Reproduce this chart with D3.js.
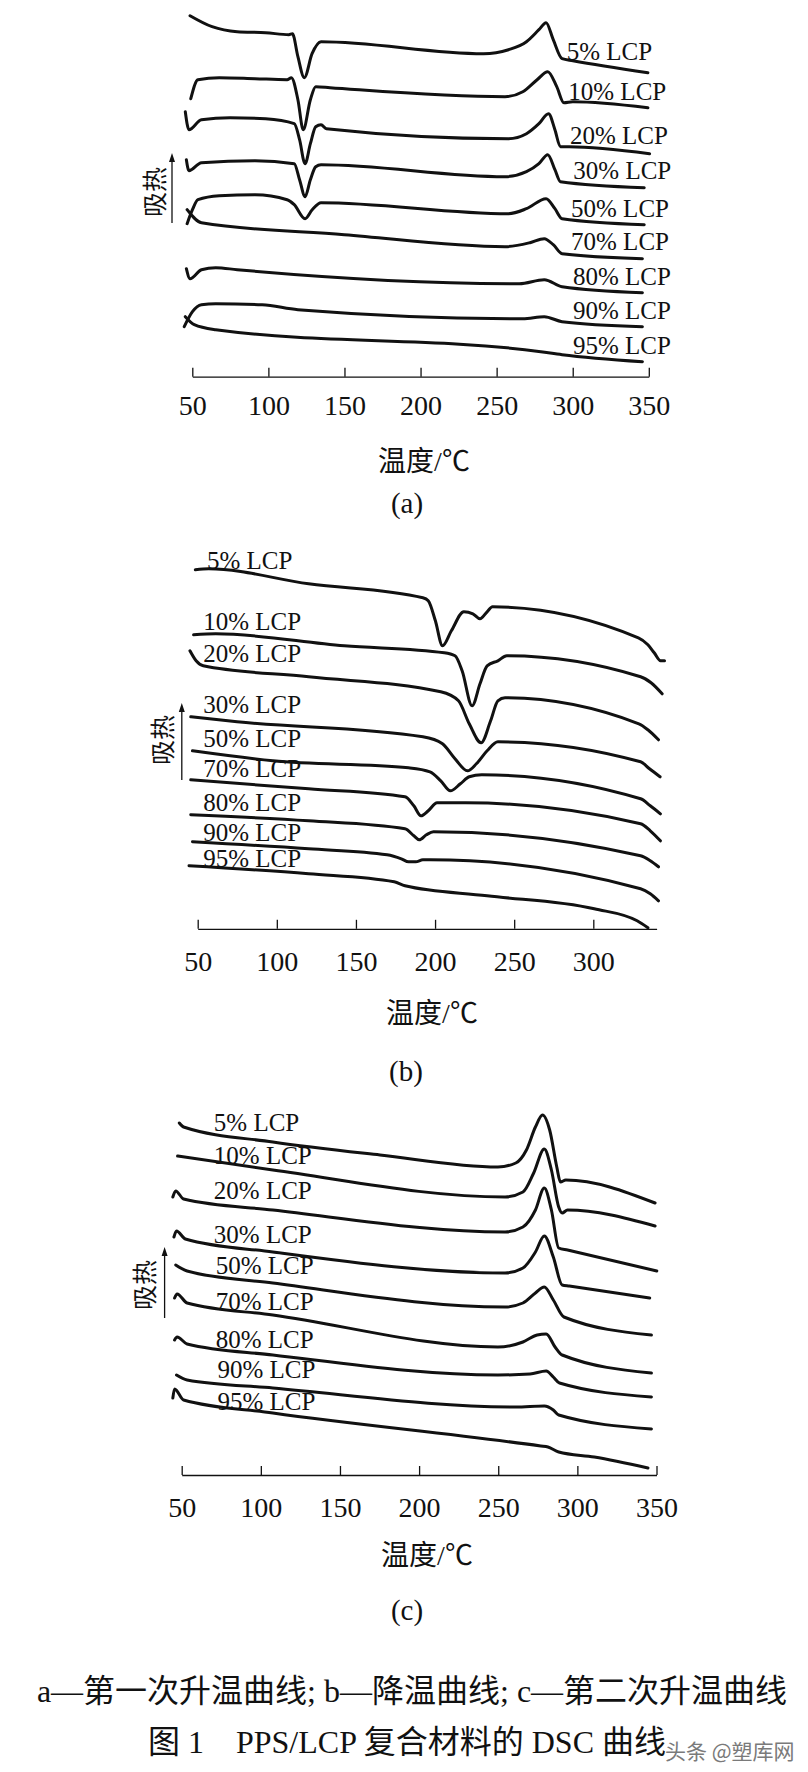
<!DOCTYPE html>
<html>
<head>
<meta charset="utf-8">
<script src="https://cdn.jsdelivr.net/npm/d3@7"></script>
<style>
  body { margin: 0; background: #fff; }
  svg { display: block; background: #fff; }
  .axis path, .axis line { stroke: #111; stroke-width: 1.3px; }
  .curve { fill: none; stroke: #111; stroke-width: 3px; stroke-linejoin: round; stroke-linecap: round; }
  .lab { font-family: "Liberation Serif", "Times New Roman", serif; font-size: 25px; fill: #111; }
  .cjk { font-family: "Liberation Serif", "Noto Sans CJK SC", serif; fill: #111; }
</style>
</head>
<body>
<svg id="chart" width="808" height="1772"></svg>
<script>
// ---------------------------------------------------------------------------
// Data (temperature in °C, heat flow in arbitrary units, endotherm up)

const series = ['5% LCP', '10% LCP', '20% LCP', '30% LCP', '50% LCP',
  '70% LCP', '80% LCP', '90% LCP', '95% LCP'];

const ticksA = [50, 100, 150, 200, 250, 300, 350];
const ticksB = [50, 100, 150, 200, 250, 300];
const ticksC = [50, 100, 150, 200, 250, 300, 350];

// (a) first heating
const curvesA = [
  [[48.5,36.1],[63.0,35.0],[79.5,34.5],[98.2,34.4],[113.5,34.2],[115.8,34.3],[119.4,32.0],[123.6,29.9],[128.7,32.3],[134.6,33.5],[241.4,32.3],[257.8,32.7],[269.6,33.5],[277.8,34.7],[282.5,35.4],[287.2,33.7],[293.0,31.8],[300.1,31.6],[349.4,30.4]],
  [[49.0,27.8],[53.7,29.7],[67.7,29.9],[91.2,29.8],[112.3,29.7],[115.1,29.9],[119.4,27.7],[122.9,24.7],[127.6,27.7],[131.1,29.0],[140.5,28.9],[255.5,28.0],[267.2,28.5],[276.6,29.7],[283.6,30.5],[289.5,29.0],[294.2,27.4],[300.1,27.5],[349.4,26.9]],
  [[45.4,26.5],[47.8,24.7],[56.0,25.7],[74.8,25.9],[98.2,25.8],[117.0,25.3],[120.5,23.7],[124.1,21.3],[127.6,23.3],[131.1,25.0],[134.6,25.2],[138.1,24.8],[257.8,23.8],[269.6,24.3],[277.8,25.3],[284.1,26.3],[288.3,24.7],[291.9,23.0],[297.7,23.0],[350.5,22.3]],
  [[46.1,21.7],[47.8,20.6],[56.0,21.4],[91.2,21.6],[117.0,21.3],[120.5,19.7],[124.1,18.0],[127.6,19.7],[131.1,21.0],[134.6,21.2],[255.5,20.0],[269.6,20.5],[277.8,21.3],[283.6,22.2],[288.3,20.7],[291.9,19.5],[347.0,18.9]],
  [[46.6,15.3],[50.1,16.7],[53.7,17.7],[67.7,18.1],[91.2,18.2],[112.3,17.7],[117.0,17.2],[124.1,15.8],[128.8,16.7],[134.6,17.4],[257.8,16.3],[269.6,16.8],[282.5,17.8],[288.3,16.8],[293.0,15.8],[347.0,15.2]],
  [[46.6,16.7],[56.0,15.4],[149.9,14.2],[255.5,13.0],[271.9,13.4],[281.3,13.8],[287.2,13.2],[293.0,12.3],[345.8,11.8]],
  [[46.1,10.8],[48.5,9.8],[56.0,10.7],[65.4,10.9],[79.5,10.7],[264.9,9.3],[281.3,9.7],[293.0,9.0],[345.8,8.4]],
  [[44.7,5.0],[50.1,6.5],[56.0,7.2],[65.4,7.3],[95.9,7.2],[119.4,6.7],[267.2,5.8],[281.3,6.0],[293.0,5.5],[345.8,5.0]],
  [[45.4,6.0],[51.3,5.2],[65.4,4.7],[279.0,2.5],[293.0,2.2],[345.8,1.5]]
];

// (b) cooling
const curvesB = [
  [[48.5,35.9],[56.9,36.0],[120.1,34.5],[192.3,33.1],[195.7,32.8],[200.2,30.8],[204.7,28.3],[210.3,29.8],[218.2,31.7],[223.9,31.5],[228.4,31.0],[232.9,31.7],[236.3,32.2],[328.5,29.1],[334.5,28.4],[338.5,27.6],[342.5,26.8],[345.0,26.8]],
  [[47.4,29.4],[61.4,29.5],[142.6,28.3],[205.8,27.6],[212.6,27.3],[217.1,25.8],[223.4,22.3],[228.4,24.5],[232.9,26.3],[239.7,26.8],[245.3,27.3],[329.9,25.2],[336.5,24.6],[343.5,23.5]],
  [[45.1,27.8],[49.0,26.8],[53.5,26.3],[120.1,25.2],[203.6,23.7],[214.8,22.8],[221.6,20.5],[229.1,18.6],[235.1,20.8],[239.7,22.8],[244.2,23.1],[328.8,20.5],[334.5,19.9],[341.2,18.9]],
  [[45.6,21.2],[74.9,20.7],[192.3,19.2],[204.7,18.5],[212.6,17.0],[220.5,15.8],[226.1,16.5],[232.9,17.8],[239.7,18.7],[329.9,16.7],[335.5,16.0],[342.2,15.2]],
  [[46.7,17.8],[97.5,16.8],[183.3,16.1],[196.8,15.7],[203.6,14.8],[209.7,13.8],[216.0,14.5],[221.6,15.2],[229.5,15.4],[329.9,13.0],[336.0,12.3],[342.4,11.5]],
  [[45.6,14.9],[120.1,14.0],[181.0,13.2],[186.6,12.3],[191.1,11.3],[195.7,11.8],[201.3,12.6],[219.4,12.6],[329.9,10.5],[336.0,9.8],[342.4,8.8]],
  [[45.6,11.4],[120.1,10.8],[181.0,10.0],[186.6,9.3],[190.0,8.9],[194.5,9.4],[199.0,9.7],[329.9,7.3],[336.0,6.8],[341.2,6.2]],
  [[46.7,8.7],[120.1,8.0],[169.7,7.4],[178.7,7.0],[183.3,6.7],[187.8,6.7],[192.3,6.9],[196.8,6.9],[329.9,4.0],[336.0,3.5],[341.2,2.8]],
  [[44.5,6.3],[120.1,5.5],[174.2,4.7],[181.0,4.3],[232.9,3.3],[300.6,2.0],[327.7,0.8],[334.5,0.1]]
];

// (c) second heating
const curvesC = [
  [[48.5,35.2],[51.2,34.8],[107.6,33.3],[175.3,32.0],[249.8,30.8],[261.1,31.2],[267.8,32.5],[273.5,34.8],[278.0,36.0],[282.5,34.5],[287.0,30.8],[289.3,29.3],[292.7,29.5],[349.1,27.2]],
  [[47.4,31.9],[107.6,30.5],[254.3,27.8],[265.6,28.3],[272.4,30.2],[279.1,32.6],[283.6,30.5],[288.2,26.8],[290.4,26.2],[293.8,26.5],[349.1,24.9]],
  [[44.4,27.8],[46.2,28.4],[51.2,27.6],[107.6,26.5],[254.3,24.3],[265.6,24.8],[273.5,26.5],[279.1,28.7],[283.6,26.5],[288.2,22.7],[293.8,22.5],[350.2,20.4]],
  [[45.1,23.8],[46.7,24.4],[52.3,23.6],[107.6,22.3],[254.3,20.2],[265.6,20.7],[273.5,22.3],[279.1,23.9],[284.8,21.8],[290.4,19.0],[294.9,18.9],[345.7,17.7]],
  [[46.2,21.0],[53.4,20.4],[107.6,19.2],[254.3,16.8],[265.6,17.2],[273.5,18.2],[279.1,18.8],[284.8,17.5],[291.5,15.8],[346.8,14.0]],
  [[45.5,17.7],[47.1,18.1],[53.4,17.2],[107.6,16.0],[249.8,12.8],[265.6,13.3],[274.6,14.0],[280.3,14.1],[285.9,12.8],[290.4,12.0],[346.8,10.2]],
  [[45.5,13.5],[47.1,13.8],[53.4,13.1],[107.6,12.0],[249.8,10.0],[270.1,10.1],[280.3,10.4],[284.8,9.8],[288.7,9.2],[346.8,7.8]],
  [[46.7,10.0],[53.4,9.5],[107.6,8.7],[261.1,6.8],[279.1,6.9],[284.8,6.5],[288.2,6.0],[346.8,4.6]],
  [[44.4,7.7],[45.5,8.6],[51.2,7.5],[107.6,6.2],[276.9,2.9],[281.4,2.8],[288.2,2.3],[310.7,1.8],[344.6,0.7]]
];

// where each series name sits, in the panel's own units [°C, a.u.]
const labelAtA = [[296.0,31.7],[297.1,27.7],[298.2,23.3],[300.4,19.8],[298.9,16.0],[298.9,12.7],[300.2,9.2],[300.2,5.8],[300.2,2.3]];
const labelAtB = [[55.8,36.0],[53.5,29.9],[53.5,26.7],[53.5,21.6],[53.5,18.2],[53.5,15.2],[53.5,11.8],[53.5,8.8],[53.5,6.2]];
const labelAtC = [[70.3,34.4],[70.3,31.1],[70.3,27.6],[70.3,23.2],[71.5,20.1],[71.5,16.5],[71.5,12.7],[72.6,9.7],[72.6,6.5]];

const xTitle = '温度/℃';
const yTitle = '吸热';
const caption1 = 'a—第一次升温曲线; b—降温曲线; c—第二次升温曲线';
const caption2 = '图 1    PPS/LCP 复合材料的 DSC 曲线';
const watermark = '头条 @塑库网';

// ---------------------------------------------------------------------------
// Layout

const panels = [
  { curves: curvesA, labelAt: labelAtA, ticks: ticksA, domain: [50, 350],
    left: 192.3, right: 648.8, base: 376.7, pad: 18.4,
    titleX: 424, titleY: 471, tag: '(a)', tagX: 407, tagY: 513,
    yLabX: 155, yLabY: 192, arrowX: 172, arrowTop: 153, arrowBottom: 223 },
  { curves: curvesB, labelAt: labelAtB, ticks: ticksB, domain: [50, 340],
    left: 197.7, right: 656.6, base: 928.8, pad: 22.8,
    titleX: 432, titleY: 1023, tag: '(b)', tagX: 406, tagY: 1081,
    yLabX: 163, yLabY: 740, arrowX: 181.8, arrowTop: 703, arrowBottom: 780 },
  { curves: curvesC, labelAt: labelAtC, ticks: ticksC, domain: [50, 350],
    left: 181.7, right: 656.5, base: 1475, pad: 21.8,
    titleX: 427, titleY: 1565, tag: '(c)', tagX: 407, tagY: 1620,
    yLabX: 145, yLabY: 1285, arrowX: 164.6, arrowTop: 1247, arrowBottom: 1318 }
];

const svg = d3.select('#chart');

panels.forEach(function(p) {
  const x = d3.scaleLinear().domain(p.domain).range([p.left, p.right]);
  const y = d3.scaleLinear().domain([0, 10]).range([p.base, p.base - 100]);

  const line = d3.line()
    .x(d => x(d[0]))
    .y(d => y(d[1]))
    .curve(d3.curveMonotoneX);

  const g = svg.append('g');

  g.selectAll('path.curve')
    .data(p.curves)
    .enter()
    .append('path')
    .attr('class', 'curve')
    .attr('d', line);

  g.selectAll('text.lab')
    .data(series)
    .enter()
    .append('text')
    .attr('class', 'lab')
    .attr('x', (d, i) => x(p.labelAt[i][0]))
    .attr('y', (d, i) => y(p.labelAt[i][1]))
    .text(d => d);

  const axis = d3.axisBottom(x)
    .tickValues(p.ticks)
    .tickSizeInner(-9)
    .tickSizeOuter(0)
    .tickPadding(p.pad)
    .tickFormat(d3.format('d'));

  const ax = g.append('g')
    .attr('class', 'axis')
    .attr('transform', `translate(0,${p.base})`)
    .call(axis);

  ax.selectAll('text')
    .attr('font-family', '"Liberation Serif", "Times New Roman", serif')
    .attr('font-size', 28)
    .attr('fill', '#111')
    .style('font-family', '"Liberation Serif", "Times New Roman", serif')
    .style('font-size', '28px');

  g.append('text')
    .attr('class', 'cjk')
    .attr('x', p.titleX)
    .attr('y', p.titleY)
    .attr('text-anchor', 'middle')
    .style('font-size', '28px')
    .text(xTitle);

  g.append('text')
    .attr('class', 'cjk')
    .attr('x', p.tagX)
    .attr('y', p.tagY)
    .attr('text-anchor', 'middle')
    .style('font-size', '29px')
    .text(p.tag);

  // vertical "endotherm" label with arrow
  g.append('text')
    .attr('class', 'cjk')
    .attr('transform', `translate(${p.yLabX},${p.yLabY})rotate(-90)`)
    .attr('text-anchor', 'middle')
    .attr('dy', '0.36em')
    .style('font-size', '25px')
    .text(yTitle);

  g.append('line')
    .attr('x1', p.arrowX).attr('x2', p.arrowX)
    .attr('y1', p.arrowBottom).attr('y2', p.arrowTop + 6)
    .attr('stroke', '#111')
    .attr('stroke-width', 1.3);

  g.append('path')
    .attr('d', `M${p.arrowX},${p.arrowTop} L${p.arrowX - 3},${p.arrowTop + 9} L${p.arrowX + 3},${p.arrowTop + 9} Z`)
    .attr('fill', '#111');
});

svg.append('text')
  .attr('class', 'cjk')
  .attr('x', 412)
  .attr('y', 1702)
  .attr('text-anchor', 'middle')
  .style('font-size', '32px')
  .style('white-space', 'pre')
  .text(caption1);

svg.append('text')
  .attr('class', 'cjk')
  .attr('x', 407)
  .attr('y', 1753)
  .attr('text-anchor', 'middle')
  .style('font-size', '32px')
  .style('white-space', 'pre')
  .text(caption2);

svg.append('text')
  .attr('x', 665)
  .attr('y', 1759)
  .style('font-family', '"Noto Sans CJK SC", sans-serif')
  .style('font-size', '21px')
  .attr('fill', '#7a7a7a')
  .text(watermark);
</script>
</body>
</html>
